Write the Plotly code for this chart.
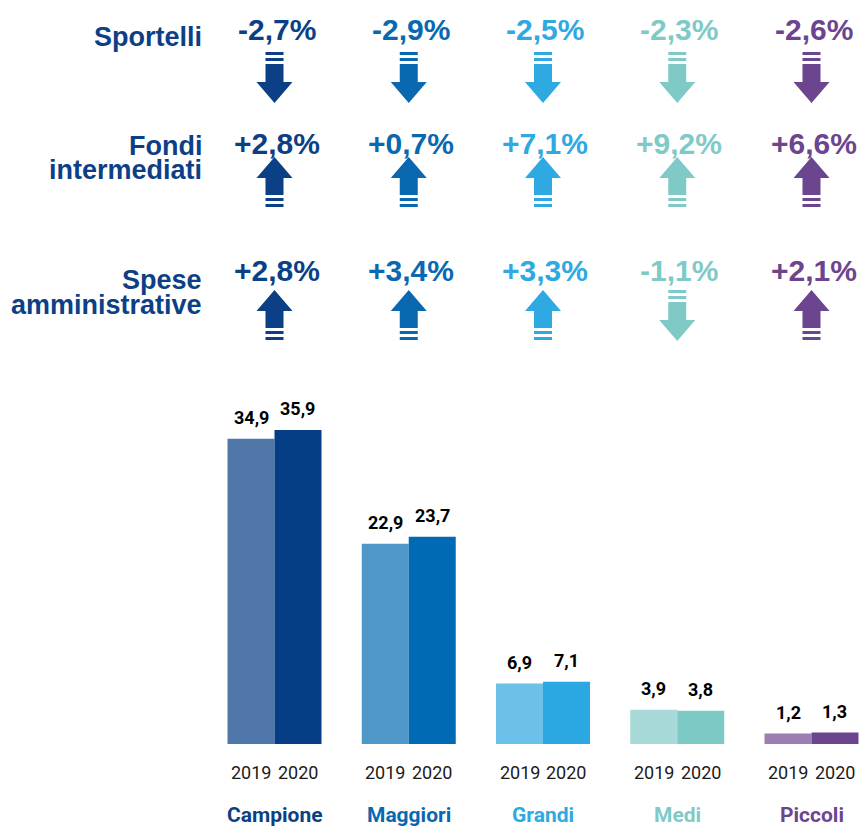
import plotly.graph_objects as go

# ---------------- data ----------------
groups = ["Campione", "Maggiori", "Grandi", "Medi", "Piccoli"]
years = ["2019", "2020"]
values_2019 = [34.9, 22.9, 6.9, 3.9, 1.2]
values_2020 = [35.9, 23.7, 7.1, 3.8, 1.3]

indicator_lines = [["Sportelli"], ["Fondi", "intermediati"], ["Spese", "amministrative"]]
var_sportelli = [-2.7, -2.9, -2.5, -2.3, -2.6]
var_fondi = [2.8, 0.7, 7.1, 9.2, 6.6]
var_spese = [2.8, 3.4, 3.3, -1.1, 2.1]
variations = [var_sportelli, var_fondi, var_spese]

# ---------------- styles ----------------
colors_2019 = ["#4f77aa", "#4f97c9", "#6cc1ea", "#a6d9d7", "#9b7eb2"]
colors_2020 = ["#053e85", "#006ab4", "#2ba8e2", "#7dc9c6", "#6c4590"]
text_colors = ["#0b3f86", "#0a68b1", "#2ea9e1", "#7fcac6", "#6c4590"]
label_color = "#0d3f87"

PAGE_OFF = 0
FW, FH = 862, 828
GROUP_PX = 134.25
FIRST_CENTER_PX = 274.5
BASE_PX = 744
TOP_PX = 380
PX_PER_UNIT = 8.75
BAR_W = 0.35

NARROW = "Roboto, Liberation Sans Narrow, sans-serif"
SANS = "Liberation Sans, Arial, Helvetica, sans-serif"

ROW_TEXT_PX = [29, 143, 270]
ROW_ARROW_PX = [52, 157, 290]
ROW_LABEL_PX = [[37], [146, 170], [280, 305]]


def fy(py):
    return 1 - (py - PAGE_OFF) / FH


def fx(px):
    return (px - PAGE_OFF) / FW


def fmt(v):
    return f"{v:.1f}".replace(".", ",")


def fmt_pct(v):
    return f"{v:+.1f}%".replace(".", ",")


def arrow_path(xc, top_px, up):
    hs = 9 / GROUP_PX
    hh = 18 / GROUP_PX
    parts = []

    def rect(y0, y1):
        return (f"M{xc-hs},{fy(y0)} L{xc+hs},{fy(y0)} L{xc+hs},{fy(y1)} "
                f"L{xc-hs},{fy(y1)} Z")

    t = top_px
    if up:
        parts.append(f"M{xc},{fy(t)} L{xc+hh},{fy(t+21)} L{xc+hs},{fy(t+21)} "
                     f"L{xc+hs},{fy(t+38)} L{xc-hs},{fy(t+38)} L{xc-hs},{fy(t+21)} "
                     f"L{xc-hh},{fy(t+21)} Z")
        parts.append(rect(t + 41, t + 44))
        parts.append(rect(t + 47, t + 50))
    else:
        parts.append(rect(t, t + 3))
        parts.append(rect(t + 6, t + 9))
        parts.append(f"M{xc-hs},{fy(t+12)} L{xc+hs},{fy(t+12)} L{xc+hs},{fy(t+30)} "
                     f"L{xc+hh},{fy(t+30)} L{xc},{fy(t+51)} L{xc-hh},{fy(t+30)} "
                     f"L{xc-hs},{fy(t+30)} Z")
    return " ".join(parts)


xs = list(range(len(groups)))

fig = go.Figure()
fig.add_trace(go.Bar(x=xs, y=values_2019, width=BAR_W, offset=-BAR_W,
                     marker=dict(color=colors_2019, line=dict(width=0)),
                     name=years[0], hoverinfo="skip"))
fig.add_trace(go.Bar(x=xs, y=values_2020, width=BAR_W, offset=0,
                     marker=dict(color=colors_2020, line=dict(width=0)),
                     name=years[1], hoverinfo="skip"))

annotations = []
shapes = []

# bar value labels, years and group names
for i, g in enumerate(groups):
    for off, v in ((-BAR_W / 2, values_2019[i]), (BAR_W / 2, values_2020[i])):
        annotations.append(dict(x=i + off, y=v, xref="x", yref="y", text=f"<b>{fmt(v)}</b>",
                                showarrow=False, yanchor="bottom", yshift=9,
                                font=dict(family=NARROW, size=18, color="#000000")))
    for off, yr in ((-BAR_W / 2, years[0]), (BAR_W / 2, years[1])):
        annotations.append(dict(x=i + off, y=fy(772), xref="x", yref="paper", text=yr,
                                showarrow=False, yanchor="middle",
                                font=dict(family=NARROW, size=18, color="#1a1a1a")))
    annotations.append(dict(x=i, y=fy(815), xref="x", yref="paper", text=f"<b>{g}</b>",
                            showarrow=False, yanchor="middle",
                            font=dict(family=NARROW, size=21, color=text_colors[i])))

# indicator rows
for r, lines in enumerate(indicator_lines):
    for line, py in zip(lines, ROW_LABEL_PX[r]):
        annotations.append(dict(x=fx(204), y=fy(py), xref="paper", yref="paper",
                                text=f"<b>{line}</b>", showarrow=False,
                                xanchor="right", yanchor="middle",
                                font=dict(family=SANS, size=27, color=label_color)))
    for i, v in enumerate(variations[r]):
        annotations.append(dict(x=i, y=fy(ROW_TEXT_PX[r]), xref="x", yref="paper",
                                text=f"<b>{fmt_pct(v)}</b>", showarrow=False,
                                xanchor="center", yanchor="middle", xshift=2,
                                font=dict(family=SANS, size=30, color=text_colors[i])))
        shapes.append(dict(type="path", xref="x", yref="paper",
                           path=arrow_path(i, ROW_ARROW_PX[r], v > 0),
                           fillcolor=text_colors[i], line=dict(width=0)))

c0 = FIRST_CENTER_PX - PAGE_OFF
fig.update_layout(
    width=FW, height=FH,
    margin=dict(l=0, r=0, t=0, b=0),
    paper_bgcolor="white", plot_bgcolor="white",
    barmode="overlay", showlegend=False,
    xaxis=dict(range=[-c0 / GROUP_PX, (FW - c0) / GROUP_PX],
               domain=[0, 1], visible=False, fixedrange=True),
    yaxis=dict(range=[0, (BASE_PX - TOP_PX) / PX_PER_UNIT],
               domain=[fy(BASE_PX), fy(TOP_PX)], visible=False, fixedrange=True),
    annotations=annotations,
    shapes=shapes,
)

fig.write_html(
    "out.html",
    config={"displayModeBar": False, "staticPlot": True},
    post_script="document.body.style.margin='0';document.body.style.overflow='hidden';",
)
